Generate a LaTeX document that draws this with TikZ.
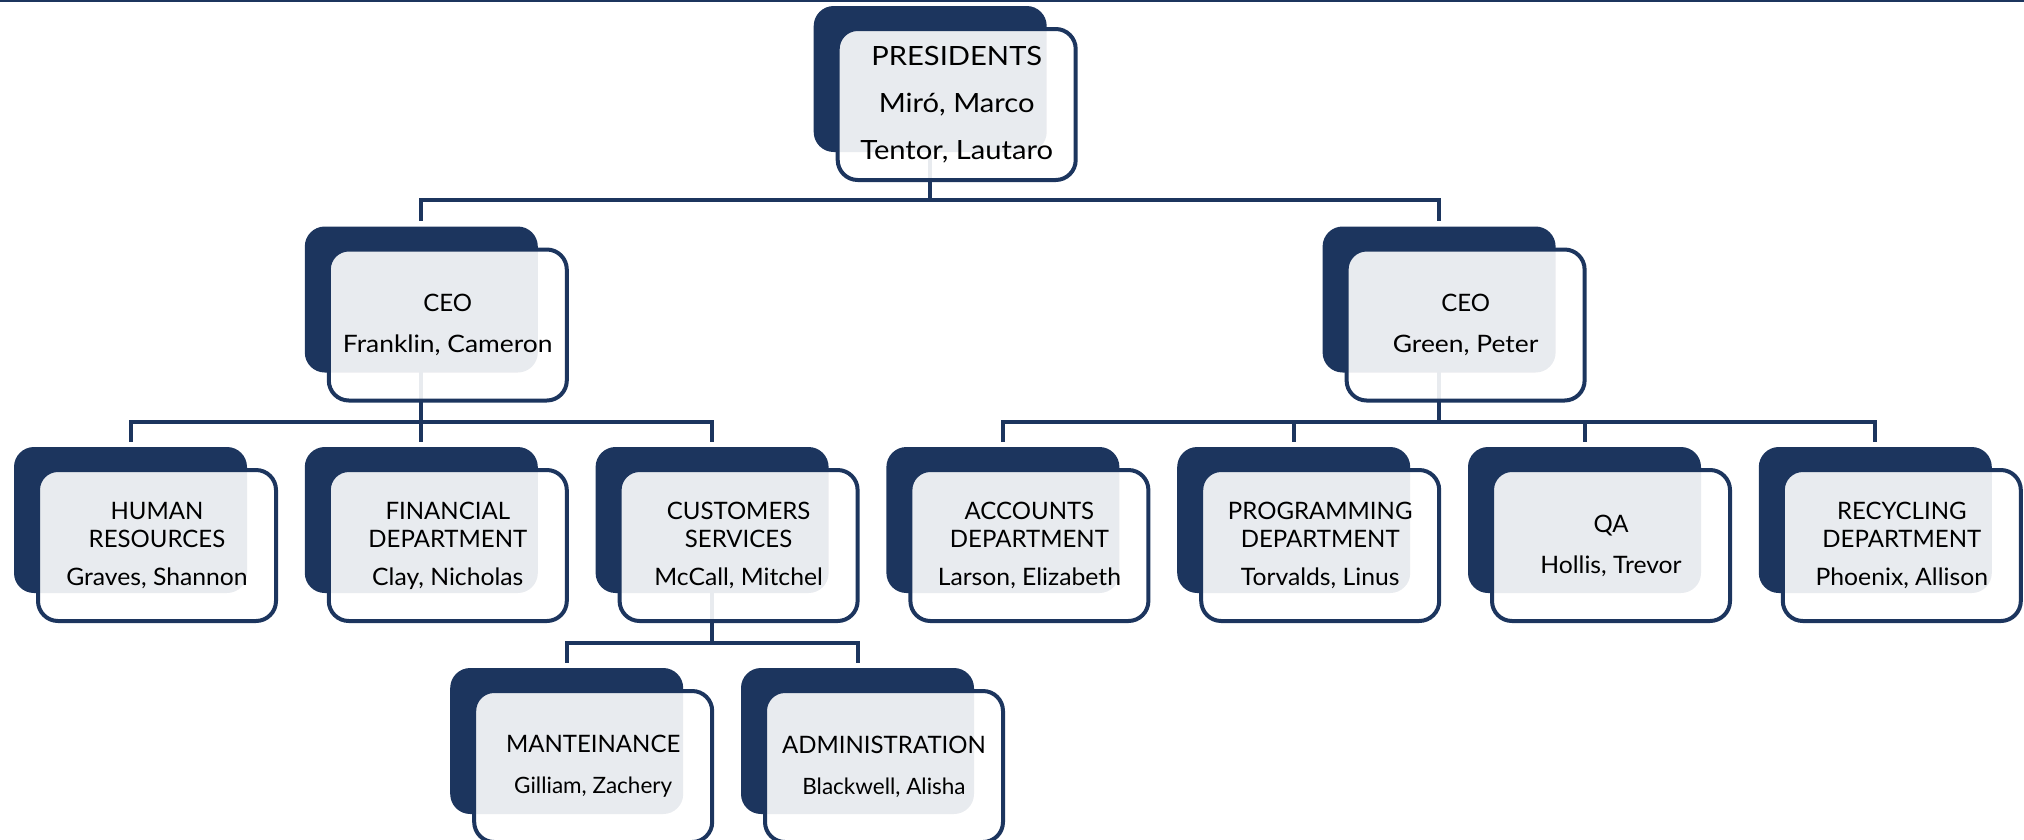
\documentclass[tikz,border=0pt]{standalone}
\usepackage{fontspec}
\setmainfont{Lato}[FakeStretch=1.1]
\newfontfamily\titlefont{Lato}
\newfontfamily\rowthreefont{Lato}[FakeStretch=1.03]
\newcommand\ttl[1]{{\titlefont #1}}
\newcommand\nmc[1]{{\rowthreefont #1}}
\newcommand\nmd[1]{{\titlefont\fontsize{22.5}{28}\selectfont #1}}
\usetikzlibrary{backgrounds}
\definecolor{navy}{RGB}{28,53,94}
\tikzset{
  darkbox/.style={fill=navy, rounded corners=20pt, minimum width=233pt, minimum height=146pt, inner sep=0pt},
  frontbox/.style={draw=navy, line width=4pt, fill=white, fill opacity=0.9, text opacity=1, text=black,
    rounded corners=20pt, minimum width=238pt, minimum height=151pt, inner sep=0pt, align=center,
    font=\fontsize{24}{28}\selectfont},
  topbox/.style={frontbox, font=\fontsize{26.5}{47}\selectfont},
  conn/.style={draw=navy, line width=4pt},
  topline/.style={draw=navy, line width=2.5pt}
}
\newcommand\orgunit[5][frontbox]{%
  \node[darkbox] (#2D) at (#3,#4) {};
  \node[#1] (#2) at ([xshift=26.5pt,yshift=-25.5pt]#2D.center) {#5};
}
\begin{document}
\begin{tikzpicture}[x=1pt,y=-1pt]
\useasboundingbox (0,0) rectangle (2024,839);
\draw[topline] (0,1) -- (2024,1);
% row 1
\orgunit[topbox]{pres}{930.2}{79}{PRESIDENTS\\Miró, Marco\\Tentor, Lautaro}
% row 2
\orgunit{ceoL}{421.3}{299.5}{\ttl{CEO}\\[13pt]Franklin, Cameron}
\orgunit{ceoR}{1439.1}{299.5}{\ttl{CEO}\\[13pt]Green, Peter}
% row 3
\orgunit{hr}{130.5}{520}{\ttl{HUMAN}\\\ttl{RESOURCES}\\[10pt]\nmc{Graves, Shannon}}
\orgunit{fin}{421.3}{520}{\ttl{FINANCIAL}\\\ttl{DEPARTMENT}\\[10pt]\nmc{Clay, Nicholas}}
\orgunit{cus}{712.1}{520}{\ttl{CUSTOMERS}\\\ttl{SERVICES}\\[10pt]\nmc{McCall, Mitchel}}
\orgunit{acc}{1002.9}{520}{\ttl{ACCOUNTS}\\\ttl{DEPARTMENT}\\[10pt]\nmc{Larson, Elizabeth}}
\orgunit{prog}{1293.7}{520}{\ttl{PROGRAMMING}\\\ttl{DEPARTMENT}\\[10pt]\nmc{Torvalds, Linus}}
\orgunit{qa}{1584.5}{520}{\ttl{QA}\\[13pt]\nmc{Hollis, Trevor}}
\orgunit{rec}{1875.3}{520}{\ttl{RECYCLING}\\\ttl{DEPARTMENT}\\[10pt]\nmc{Phoenix, Allison}}
% row 4
\orgunit{man}{566.7}{741}{\ttl{MANTEINANCE}\\[13pt]\nmd{Gilliam, Zachery}}
\orgunit{adm}{857.5}{741}{\ttl{ADMINISTRATION}\\[13pt]\nmd{Blackwell, Alisha}}
% connectors
\begin{scope}[on background layer]
  \coordinate (b1) at (0,200);
  \coordinate (b2) at (0,422);
  \coordinate (b3) at (0,643);
  \foreach \c in {ceoL,ceoR}
    \draw[conn] (presD.center) -- (presD.center |- b1) -| ([yshift=5pt]\c D.north);
  \foreach \c in {hr,fin,cus}
    \draw[conn] (ceoLD.center) -- (ceoLD.center |- b2) -| ([yshift=5pt]\c D.north);
  \foreach \c in {acc,prog,qa,rec}
    \draw[conn] (ceoRD.center) -- (ceoRD.center |- b2) -| ([yshift=5pt]\c D.north);
  \foreach \c in {man,adm}
    \draw[conn] (cusD.center) -- (cusD.center |- b3) -| ([yshift=5pt]\c D.north);
\end{scope}
\end{tikzpicture}
\end{document}
